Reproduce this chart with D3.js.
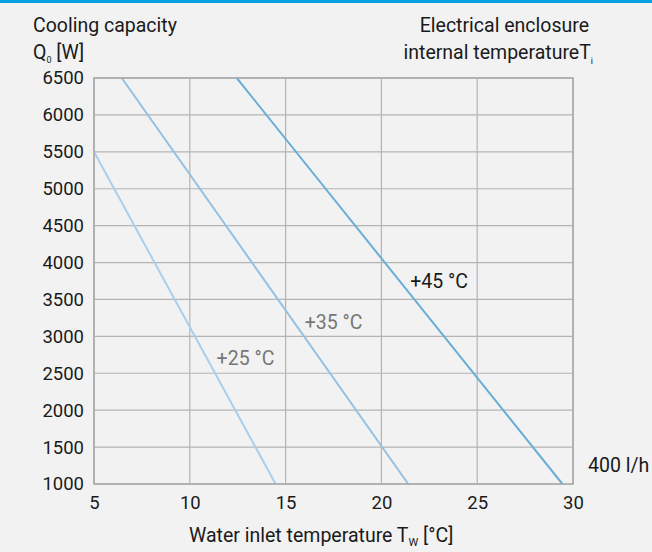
<!DOCTYPE html>
<html>
<head>
<meta charset="utf-8">
<script src="https://cdn.jsdelivr.net/npm/d3@7"></script>
<style>
  body { margin: 0; background: #f2f2f2; }
  svg { display: block; }
  text { font-family: Roboto, "Liberation Sans", sans-serif; fill: #1a1a1a; }
</style>
</head>
<body>
<div id="chart"></div>
<script>
(function() {
    const width = 652;
    const height = 552;

    // Temperature curves at 400 l/h: water inlet temperature vs cooling capacity
    const seriesNames = ["+25 °C", "+35 °C", "+45 °C"];
    const curve25 = [[5, 5500], [14.48, 1000]];
    const curve35 = [[6.45, 6500], [21.4, 1000]];
    const curve45 = [[12.45, 6500], [29.45, 1000]];
    const xTicks = [5, 10, 15, 20, 25, 30];
    const yTicks = [1000, 1500, 2000, 2500, 3000, 3500, 4000, 4500, 5000, 5500, 6000, 6500];

    const margin = { top: 78, right: 79, bottom: 68, left: 94 };
    const fs = "19.5px";
    const tickFs = "18.5px";

    const svg = d3.select("#chart")
        .append("svg")
        .attr("width", width)
        .attr("height", height);

    // blue strip at the top
    svg.append("rect")
        .attr("x", 0).attr("y", 0)
        .attr("width", width).attr("height", 3)
        .attr("fill", "#00a0e3");

    const x = d3.scaleLinear()
        .domain([5, 30])
        .range([margin.left, width - margin.right]);

    const y = d3.scaleLinear()
        .domain([1000, 6500])
        .range([height - margin.bottom, margin.top]);

    // grid
    svg.append("g")
        .selectAll("line")
        .data(xTicks)
        .enter().append("line")
        .attr("x1", d => x(d)).attr("x2", d => x(d))
        .attr("y1", y(1000)).attr("y2", y(6500))
        .attr("stroke", "#b4b4b4")
        .attr("stroke-width", 1.2);

    svg.append("g")
        .selectAll("line")
        .data(yTicks)
        .enter().append("line")
        .attr("x1", x(5)).attr("x2", x(30))
        .attr("y1", d => y(d)).attr("y2", d => y(d))
        .attr("stroke", "#b4b4b4")
        .attr("stroke-width", 1.2);

    // axes labels
    const xAxis = d3.axisBottom(x).tickValues(xTicks).tickSize(0).tickPadding(12)
        .tickFormat(d3.format("d"));
    svg.append("g")
        .attr("transform", `translate(0,${y(1000)})`)
        .call(xAxis)
        .call(g => g.select(".domain").remove())
        .selectAll("text")
        .style("font-size", tickFs)
        .attr("fill", "#1a1a1a");

    const yAxis = d3.axisLeft(y).tickValues(yTicks).tickSize(0).tickPadding(10)
        .tickFormat(d3.format("d"));
    svg.append("g")
        .attr("transform", `translate(${x(5)},0)`)
        .call(yAxis)
        .call(g => g.select(".domain").remove())
        .selectAll("text")
        .style("font-size", tickFs)
        .attr("fill", "#1a1a1a");

    // curves
    const line = d3.line()
        .x(d => x(d[0]))
        .y(d => y(d[1]));

    const curves = [
        { data: curve25, color: "#a9cfec" },
        { data: curve35, color: "#94c1e3" },
        { data: curve45, color: "#6aaed8" }
    ];

    svg.append("g")
        .selectAll("path")
        .data(curves)
        .enter().append("path")
        .attr("d", d => line(d.data))
        .attr("fill", "none")
        .attr("stroke", d => d.color)
        .attr("stroke-width", 2);

    // curve labels
    const labelPos = [[11.4, 2610, "#777"], [16.0, 3100, "#777"], [21.5, 3655, "#1a1a1a"]];
    svg.append("g")
        .selectAll("text")
        .data(seriesNames)
        .enter().append("text")
        .attr("x", (d, i) => x(labelPos[i][0]))
        .attr("y", (d, i) => y(labelPos[i][1]))
        .style("font-size", fs)
        .style("fill", (d, i) => labelPos[i][2])
        .text(d => d);

    // titles
    svg.append("text")
        .attr("x", 33).attr("y", 32)
        .style("font-size", fs)
        .text("Cooling capacity");

    const q = svg.append("text")
        .attr("x", 33).attr("y", 59)
        .style("font-size", fs);
    q.append("tspan").text("Q");
    q.append("tspan").attr("dy", 4).style("font-size", "9px").text("0");
    q.append("tspan").attr("dy", -4).text(" [W]");

    svg.append("text")
        .attr("x", 589).attr("y", 32)
        .attr("text-anchor", "end")
        .style("font-size", fs)
        .text("Electrical enclosure");

    const ti = svg.append("text")
        .attr("x", 593).attr("y", 59)
        .attr("text-anchor", "end")
        .style("font-size", fs);
    ti.append("tspan").text("internal temperatureT");
    ti.append("tspan").attr("dy", 5).style("font-size", "9px").text("i");

    const xt = svg.append("text")
        .attr("x", 189).attr("y", 542)
        .style("font-size", fs);
    xt.append("tspan").text("Water inlet temperature T");
    xt.append("tspan").attr("dy", 4).style("font-size", "11px").text("W");
    xt.append("tspan").attr("dy", -4).text(" [°C]");

    svg.append("text")
        .attr("x", 588).attr("y", 472)
        .style("font-size", fs)
        .text("400 l/h");

    // frame
    svg.append("rect")
        .attr("x", x(5)).attr("y", y(6500))
        .attr("width", x(30) - x(5))
        .attr("height", y(1000) - y(6500))
        .attr("fill", "none")
        .attr("stroke", "#a8a8a8")
        .attr("stroke-width", 1.5);
})();
</script>
</body>
</html>
